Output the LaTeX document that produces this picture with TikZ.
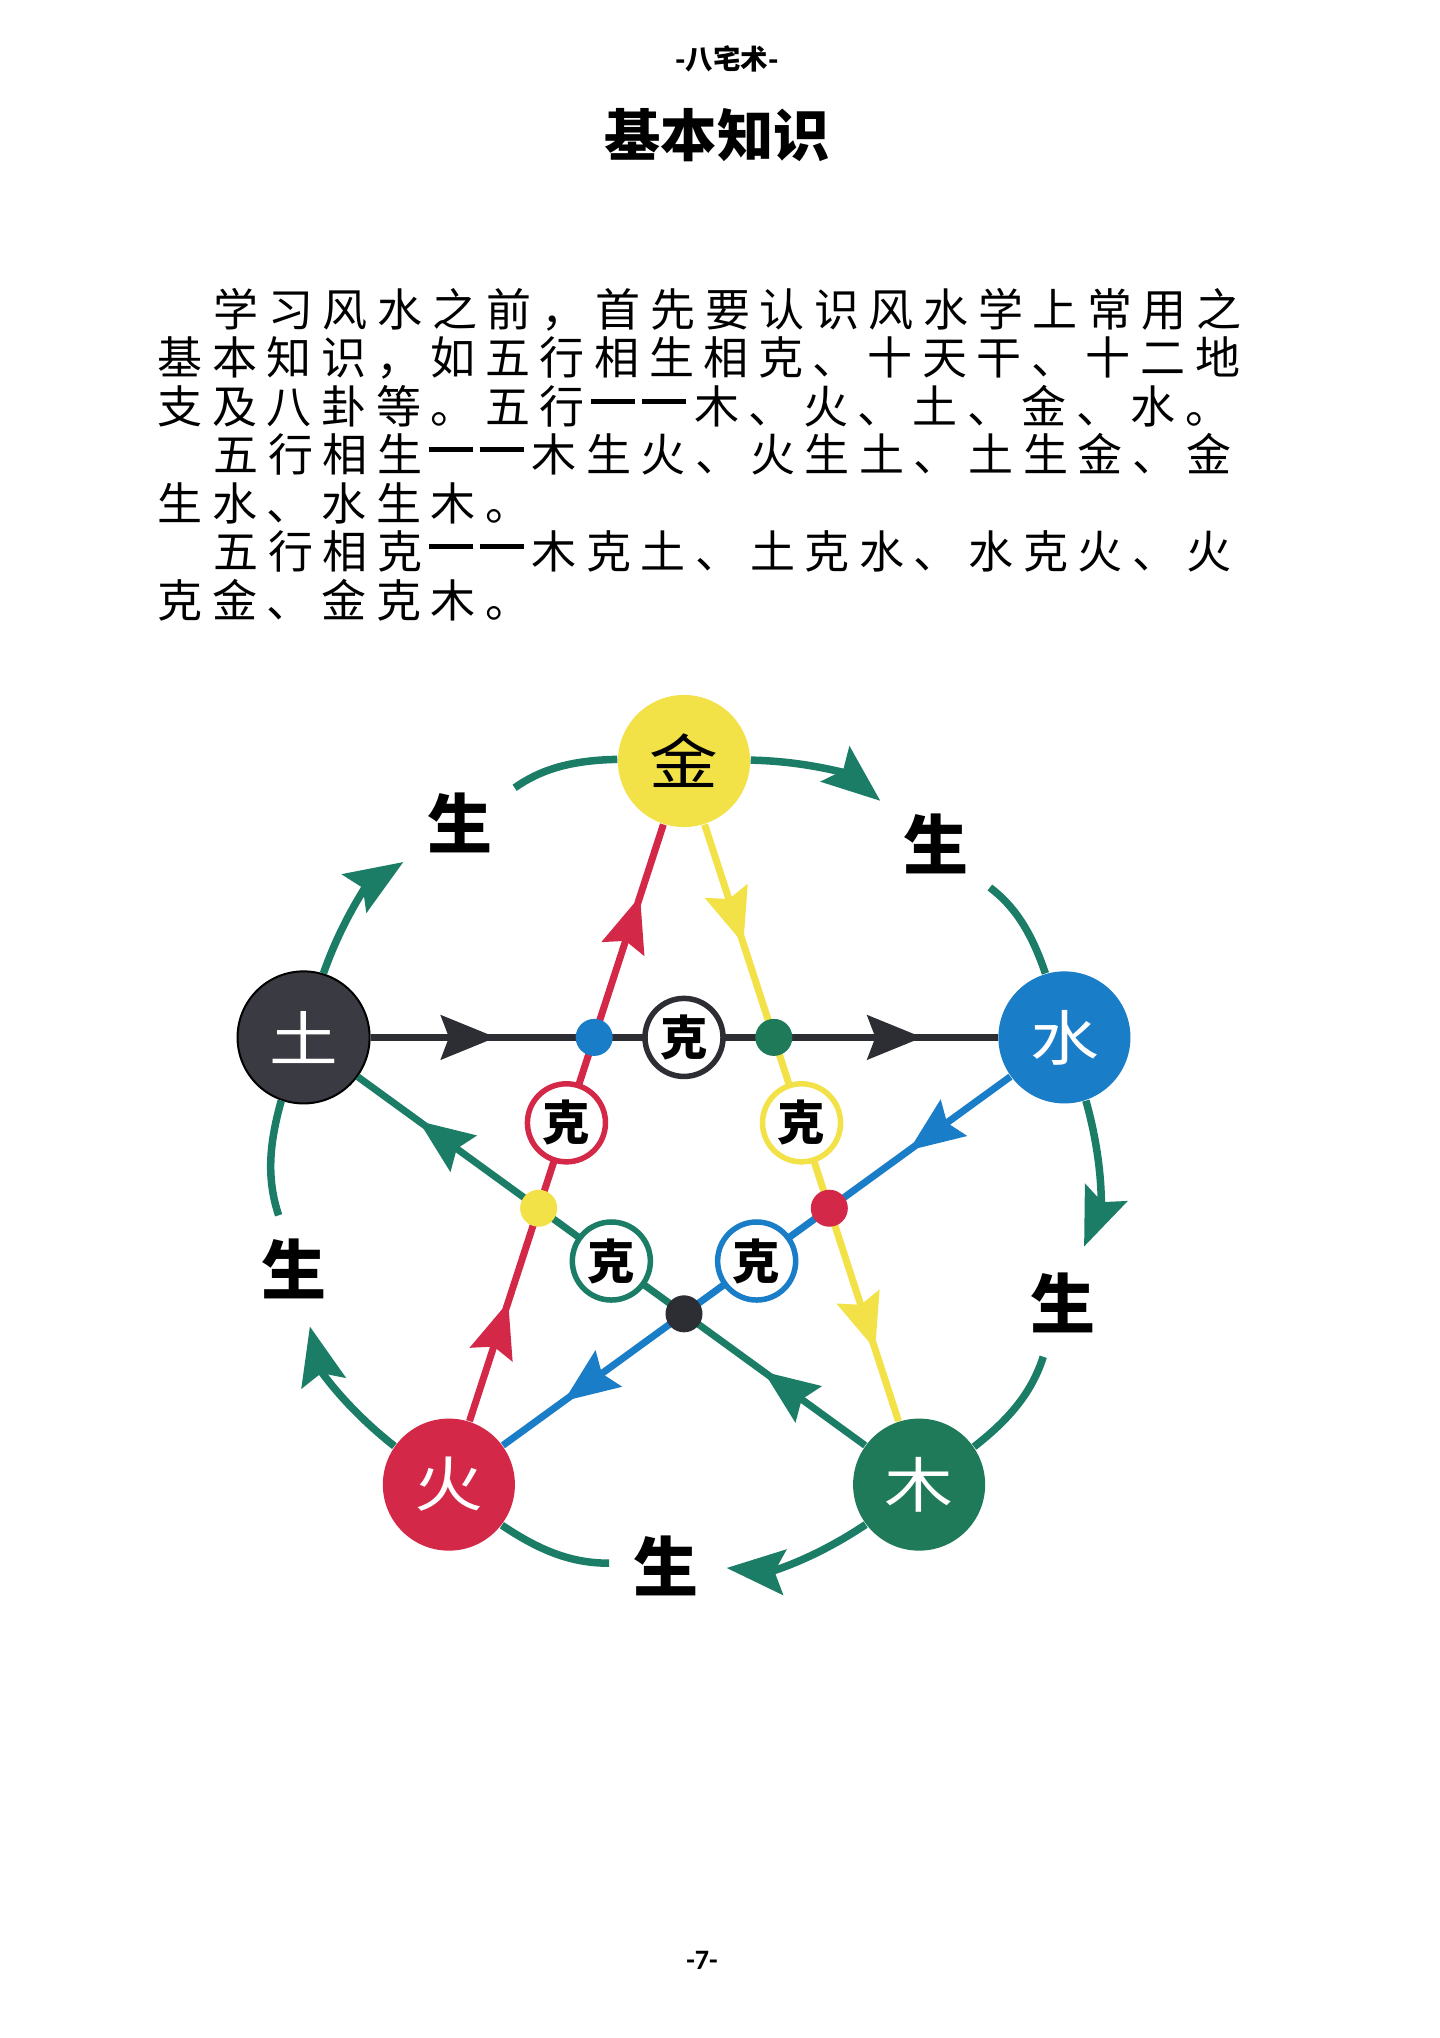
\documentclass[tikz,border=0pt]{standalone}
\usepackage{fontspec}
\usetikzlibrary{arrows.meta,calc,decorations.markings}

\newfontfamily\cjk{Noto Sans CJK SC}
\newfontfamily\cjkbody[LetterSpace=21.3]{Noto Sans CJK SC}
\newfontfamily\cjkwide[FakeStretch=1.15]{Noto Sans CJK SC}
\newfontfamily\numfont{Carlito}

\definecolor{jinyellow}{RGB}{242,226,72}
\definecolor{shuiblue}{RGB}{26,125,200}
\definecolor{mugreen}{RGB}{30,122,88}
\definecolor{huored}{RGB}{212,40,72}
\definecolor{tugray}{RGB}{58,58,66}
\definecolor{shengteal}{RGB}{28,125,102}
\definecolor{ink}{RGB}{45,45,52}

\tikzset{
  elem/.style={circle, minimum size=1.32cm, inner sep=0pt, font=\cjkwide\fontsize{17}{17}\selectfont},
  sheng/.style={inner sep=2pt, font=\cjk\bfseries\fontsize{18.5}{18.5}\selectfont},
  kering/.style={circle, draw=#1, line width=0.055cm, fill=white, minimum size=0.78cm, inner sep=0pt, font=\cjk\bfseries\fontsize{13.5}{13.5}\selectfont},
  kdot/.style={circle, fill=#1, minimum size=0.37cm, inner sep=0pt},
  shengarc/.style={draw=shengteal, line width=0.075cm},
  kline/.style={color=#1, line width=0.07cm, postaction={decorate},
    decoration={markings,
      mark=at position 0.2 with {\arrow{Stealth[length=0.55cm,width=0.44cm,inset=0.08cm]}},
      mark=at position 0.88 with {\arrow{Stealth[length=0.55cm,width=0.44cm,inset=0.08cm]}}}},
  para/.style={anchor=west, inner sep=0pt, font=\cjkbody\fontsize{12.8}{12.8}\selectfont},
}
% two-character dash, as wide as two characters of the text
\newcommand{\dashpair}{\makebox[1.092cm][l]{\hspace{0.06cm}\rule[0.19cm]{0.44cm}{0.05cm}\hspace{0.07cm}\rule[0.19cm]{0.44cm}{0.05cm}}}

\begin{document}
\begin{tikzpicture}[x=0.01cm, y=0.01cm]
  \fill[white] (0,0) rectangle (1440,-2038);
  \useasboundingbox (0,0) rectangle (1440,-2038);

  % page head and text
  \node[font=\cjk\bfseries\fontsize{7.8}{7.8}\selectfont] (header) at (727,-59) {-八宅术-};
  \node[font=\cjk\bfseries\fontsize{16}{16}\selectfont] (title) at (717,-135) {基本知识};
  \node[para] (p1) at (213,-310) {学习风水之前，首先要认识风水学上常用之};
  \node[para] (p2) at (157,-358) {基本知识，如五行相生相克、十天干、十二地};
  \node[para] (p3) at (157,-406) {支及八卦等。五行\dashpair 木、火、土、金、水。};
  \node[para] (p4) at (213,-454) {五行相生\dashpair 木生火、火生土、土生金、金};
  \node[para] (p5) at (157,-503) {生水、水生木。};
  \node[para] (p6) at (213,-551) {五行相克\dashpair 木克土、土克水、水克火、火};
  \node[para] (p7) at (157,-600) {克金、金克木。};
  \node[font=\numfont\bfseries\fontsize{8}{8}\selectfont] (pageno) at (702,-1960) {-7-};

  % five elements
  \coordinate (c) at (684,-1161);
  \node[elem, fill=jinyellow] (jin) at ($(c)+(90:400)$) {金};
  \node[elem, fill=shuiblue, text=white] (shui) at ($(c)+(18:400)$) {水};
  \node[elem, fill=mugreen, text=white] (mu) at ($(c)+(-54:400)$) {木};
  \node[elem, fill=huored, text=white] (huo) at ($(c)+(-126:400)$) {火};
  \node[elem, fill=tugray, draw=black, line width=0.02cm, text=white] (tu) at ($(c)+(162:400)$) {土};

  % sheng labels
  \node[sheng] (s1) at ($(c)+(51.5:405)$) {生};
  \node[sheng] (s2) at ($(c)+(-20.5:405)$) {生};
  \node[sheng] (s3) at ($(c)+(-92.5:405)$) {生};
  \node[sheng] (s4) at ($(c)+(-164.5:405)$) {生};
  \node[sheng] (s5) at ($(c)+(123.5:405)$) {生};

  % outer cycle
  \foreach \a/\s/\b in {jin/s1/shui, shui/s2/mu, mu/s3/huo, huo/s4/tu, tu/s5/jin}{
    \draw[shengarc, -{Stealth[length=0.58cm,width=0.45cm,inset=0.1cm]}, shorten >=0.2cm] (\a) to[bend left=19] (\s);
    \draw[shengarc, shorten <=0.17cm] (\s) to[bend left=17] (\b);
  }

  % star
  \draw[kline=ink] (tu) -- (shui);
  \draw[kline=huored] (huo) -- (jin);
  \draw[kline=jinyellow] (jin) -- (mu);
  \draw[kline=shuiblue] (shui) -- (huo);
  \draw[kline=shengteal] (mu) -- (tu);

  \node[kdot=shuiblue] (d1) at ($(c)+(126:152.8)$) {};
  \node[kdot=mugreen] (d2) at ($(c)+(54:152.8)$) {};
  \node[kdot=huored] (d3) at ($(c)+(-18:152.8)$) {};
  \node[kdot=ink] (d4) at ($(c)+(-90:152.8)$) {};
  \node[kdot=jinyellow] (d5) at ($(c)+(198:152.8)$) {};

  \node[kering=ink] (k1) at ($(c)+(90:123.6)$) {克};
  \node[kering=huored] (k2) at ($(c)+(162:123.6)$) {克};
  \node[kering=jinyellow] (k3) at ($(c)+(18:123.6)$) {克};
  \node[kering=shengteal] (k4) at ($(c)+(-126:123.6)$) {克};
  \node[kering=shuiblue] (k5) at ($(c)+(-54:123.6)$) {克};
\end{tikzpicture}
\end{document}
